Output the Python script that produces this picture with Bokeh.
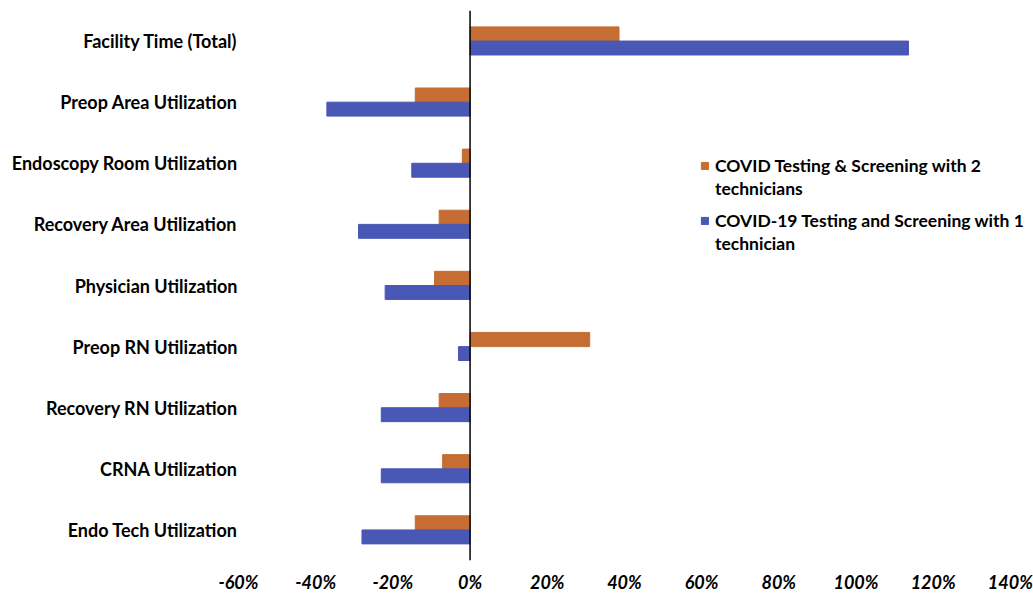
from bokeh.plotting import figure
from bokeh.models import ColumnDataSource, FactorRange, Span, Legend, LegendItem, FixedTicker, PrintfTickFormatter
from bokeh.transform import dodge
from bokeh.embed import file_html
from bokeh.resources import INLINE

categories = ["Facility Time (Total)", "Preop Area Utilization", "Endoscopy Room Utilization",
              "Recovery Area Utilization", "Physician Utilization", "Preop RN Utilization",
              "Recovery RN Utilization", "CRNA Utilization", "Endo Tech Utilization"]
two_tech = [38.6, -14.2, -2.0, -8.0, -9.2, 31.0, -8.0, -7.1, -14.2]
one_tech = [113.6, -37.1, -15.1, -28.9, -22.0, -3.0, -23.0, -23.0, -28.0]
ticks = [-60, -40, -20, 0, 20, 40, 60, 80, 100, 120, 140]
label_two = ["COVID Testing & Screening with 2", "technicians"]
label_one = ["COVID-19 Testing and Screening with 1", "technician"]

ORANGE = "#C56D33"
BLUE = "#4957B5"
FONT = "Lato"

src = ColumnDataSource(dict(cat=categories, two=two_tech, one=one_tech))

p = figure(width=1033, height=595, output_backend="svg", toolbar_location=None,
           y_range=FactorRange(factors=list(reversed(categories))), x_range=(-60, 146),
           min_border_left=238, min_border_right=0, min_border_top=10, min_border_bottom=32)

r2 = p.hbar(y=dodge("cat", 0.116, range=p.y_range), right="two", left=0, height=0.232,
            source=src, fill_color=ORANGE, line_color=ORANGE)
r1 = p.hbar(y=dodge("cat", -0.114, range=p.y_range), right="one", left=0, height=0.228,
            source=src, fill_color=BLUE, line_color=BLUE)

p.add_layout(Span(location=0, dimension="height", line_color="black", line_width=1.5))

p.xgrid.visible = False
p.ygrid.visible = False
p.outline_line_color = None

for ax in (p.xaxis[0], p.yaxis[0]):
    ax.axis_line_color = None
    ax.major_tick_line_color = None
    ax.minor_tick_line_color = None
    ax.major_tick_out = 0
    ax.major_label_text_font = FONT
    ax.major_label_text_font_style = "bold"
    ax.major_label_text_font_size = "18px"
    ax.major_label_text_color = "black"

p.xaxis[0].ticker = FixedTicker(ticks=ticks)
p.xaxis[0].formatter = PrintfTickFormatter(format="%d%%")
p.xaxis[0].major_label_text_font_style = "bold italic"
p.xaxis[0].major_label_standoff = 10
p.yaxis[0].major_label_standoff = 1


def make_legend(lines, renderer, loc):
    items = [LegendItem(label=lines[0], renderers=[renderer]),
             LegendItem(label=lines[1], renderers=[])]
    return Legend(items=items, location=loc, border_line_color=None, background_fill_alpha=0,
                  label_text_font=FONT, label_text_font_style="bold", label_text_font_size="17.5px",
                  label_text_color="black", label_height=20,
                  glyph_width=9, glyph_height=9, label_standoff=6, spacing=2, padding=0, margin=0)


p.add_layout(make_legend(label_two, r2, (462, 361)))
p.add_layout(make_legend(label_one, r1, (462, 306)))

open("out.html", "w").write(file_html(p, INLINE))
